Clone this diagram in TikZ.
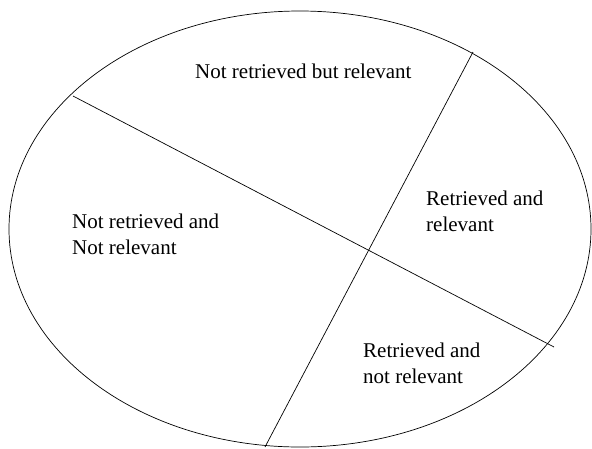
\documentclass[tikz,border=0pt]{standalone}
\usepackage{fontspec}
\setmainfont{Liberation Serif}
\usetikzlibrary{positioning}

\begin{document}
\begin{tikzpicture}[
    x=1pt, y=-1pt,
    every node/.style={font=\fontsize{21}{26}\selectfont},
    region/.style={align=left, inner sep=0pt, anchor=base west},
    cut/.style={line width=0.7pt, black}
]
\useasboundingbox (0,0) rectangle (592,448);
% outer set
\draw[cut] (300,229) ellipse [x radius=291, y radius=218];
\coordinate (relL) at (73,96);
\coordinate (relR) at (554,347);
\coordinate (retT) at (473,52);
\coordinate (retB) at (265,447);
\draw[cut] (relL) -- (relR);
\draw[cut] (retT) -- (retB);
% the four regions (anchored on the last line)
\node[region] (nrr) at (195,78) {Not retrieved but relevant};
\node[region] (rr) at (426,231) {Retrieved and\\relevant};
\node[region] (nrnr) at (72,254) {Not retrieved and\\Not relevant};
\node[region] (rnr) at (363,383) {Retrieved and\\not relevant};
\end{tikzpicture}
\end{document}
